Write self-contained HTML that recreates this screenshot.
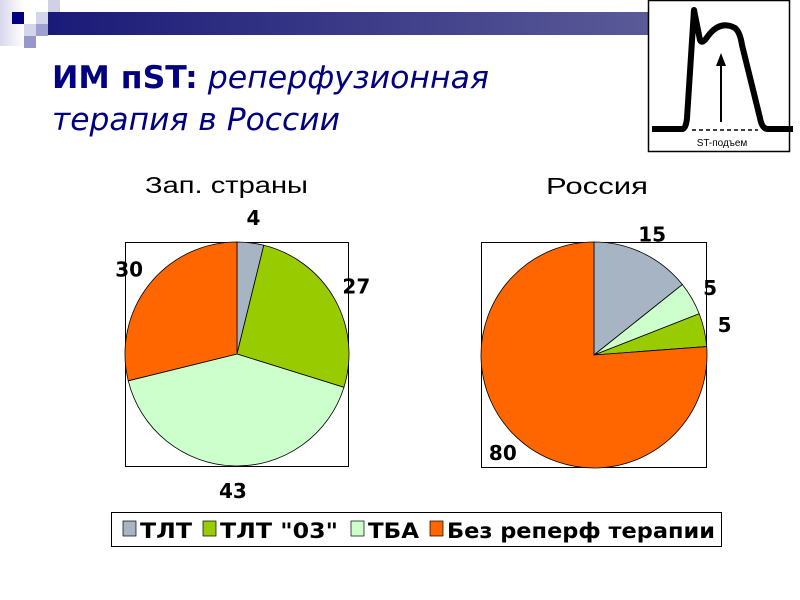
<!DOCTYPE html>
<html><head><meta charset="utf-8"><style>
body{margin:0;background:#fff;width:800px;height:600px;overflow:hidden}
svg{display:block}
</style></head><body>
<svg width="800" height="600" viewBox="0 0 800 600" font-family="'Liberation Sans', sans-serif">
<defs>
<linearGradient id="bar" x1="0" x2="1" y1="0" y2="0"><stop offset="0" stop-color="#1a1a78"/><stop offset="1" stop-color="#5a5a98"/></linearGradient>
<linearGradient id="fade" x1="0" x2="1"><stop offset="0" stop-color="#d8d8ec"/><stop offset="1" stop-color="#ffffff"/></linearGradient>
</defs>
<g>
<rect x="0" y="0" width="24" height="46" fill="url(#fade)"/>
<rect x="48" y="0" width="12" height="12" fill="#d0d0e6"/>
<rect x="12" y="12" width="12" height="12" fill="#000080"/>
<rect x="36" y="12" width="12" height="12" fill="#d4d4ea"/>
<rect x="48" y="12" width="12" height="12" fill="#9494c4"/>
<rect x="24" y="24" width="12" height="12" fill="#d4d4ea"/>
<rect x="36" y="24" width="12" height="12" fill="#a0a0d0"/>
<rect x="24" y="36" width="12" height="12" fill="#9898c8"/>
<rect x="48" y="12" width="600" height="23" fill="url(#bar)"/>
</g>
<text x="52" y="88" font-size="31" fill="#000080" font-family="'DejaVu Sans', sans-serif" textLength="437" lengthAdjust="spacingAndGlyphs"><tspan font-weight="bold">ИМ пST:</tspan><tspan font-style="italic"> реперфузионная</tspan></text>
<text x="52" y="130" font-size="31" fill="#000080" font-style="italic" font-family="'DejaVu Sans', sans-serif" textLength="288" lengthAdjust="spacingAndGlyphs">терапия в России</text>
<g>
<rect x="648.5" y="0.5" width="141" height="151" fill="#fff" stroke="#000" stroke-width="1.5"/>
<path d="M652 129 L682 129 Q686 129 687 118 L694 10 L700 40 Q702 45 708 36 Q720 20 735 28 Q740 32 742 45 L760 118 Q762 129 768 129 L793 129" fill="none" stroke="#000" stroke-width="6" stroke-linejoin="round"/>
<line x1="692" y1="130" x2="758" y2="130" stroke="#000" stroke-width="1.5" stroke-dasharray="4,3"/>
<line x1="721" y1="122" x2="721" y2="64" stroke="#000" stroke-width="2"/>
<polygon points="716,66 721,53 726,66" fill="#000"/>
<text x="722" y="146" font-size="10" text-anchor="middle">ST-подъем</text>
</g>
<text x="145" y="193" font-size="23" textLength="163" lengthAdjust="spacingAndGlyphs">Зап. страны</text>
<text x="546" y="194" font-size="23" textLength="102" lengthAdjust="spacingAndGlyphs">Россия</text>
<rect x="125.5" y="242.5" width="223" height="224" fill="none" stroke="#000"/>
<rect x="481.5" y="242.5" width="225" height="225" fill="none" stroke="#000"/>
<g id="pie1"></g>
<g id="pie2"></g>
<g font-family="'DejaVu Sans', sans-serif" font-weight="bold" font-size="21">
<rect x="111.5" y="512.5" width="610" height="34" fill="#fff" stroke="#000"/>
<rect x="123" y="521" width="13" height="15" fill="#a6b4c4" stroke="#000" stroke-width="0.7"/>
<text x="140" y="538" textLength="52" lengthAdjust="spacingAndGlyphs">ТЛТ</text>
<rect x="203" y="521" width="13" height="15" fill="#99cc00" stroke="#000" stroke-width="0.7"/>
<text x="220" y="538" textLength="118" lengthAdjust="spacingAndGlyphs">ТЛТ "03"</text>
<rect x="351" y="521" width="13" height="15" fill="#ccffcc" stroke="#000" stroke-width="0.7"/>
<text x="368" y="538" textLength="51" lengthAdjust="spacingAndGlyphs">ТБА</text>
<rect x="430" y="521" width="13" height="15" fill="#ff6600" stroke="#000" stroke-width="0.7"/>
<text x="447" y="538" textLength="268" lengthAdjust="spacingAndGlyphs">Без реперф терапии</text>
</g>
</svg>
<script>
const categories = ["ТЛТ", "ТЛТ \"03\"", "ТБА", "Без реперф терапии"];
const westValues = [4, 27, 43, 30];
const russiaValues = [15, 5, 5, 80];
const westOrder = [0, 1, 2, 3];
const russiaOrder = [0, 2, 1, 3];
const colors = ["#a6b4c4", "#99cc00", "#ccffcc", "#ff6600"];
const NS = "http://www.w3.org/2000/svg";
function drawPie(gid, values, order, cx, cy, r, lr) {
  const g = document.getElementById(gid);
  const total = values.reduce((a, b) => a + b, 0);
  let a0 = 0;
  order.forEach((i) => {
    const v = values[i];
    const a1 = a0 + v / total * Math.PI * 2;
    const x0 = cx + r * Math.sin(a0), y0 = cy - r * Math.cos(a0);
    const x1 = cx + r * Math.sin(a1), y1 = cy - r * Math.cos(a1);
    const large = (a1 - a0) > Math.PI ? 1 : 0;
    const p = document.createElementNS(NS, "path");
    p.setAttribute("d", `M${cx},${cy} L${x0},${y0} A${r},${r} 0 ${large} 1 ${x1},${y1} Z`);
    p.setAttribute("fill", colors[i]);
    p.setAttribute("stroke", "#000");
    p.setAttribute("stroke-width", "0.8");
    
    
    g.appendChild(p);
    const am = (a0 + a1) / 2;
    const t = document.createElementNS(NS, "text");
    t.setAttribute("x", cx + lr * Math.sin(am));
    t.setAttribute("y", cy - lr * Math.cos(am) + 7);
    t.setAttribute("text-anchor", "middle");
    t.setAttribute("font-family", "'DejaVu Sans', sans-serif");
    t.setAttribute("font-weight", "bold");
    t.setAttribute("font-size", "20");
    t.textContent = v;
    
    
    g.appendChild(t);
    a0 = a1;
  });
}
drawPie("pie1", westValues, westOrder, 237, 354, 112, 137);
drawPie("pie2", russiaValues, russiaOrder, 594, 355, 113, 134);
</script>
</body></html>
